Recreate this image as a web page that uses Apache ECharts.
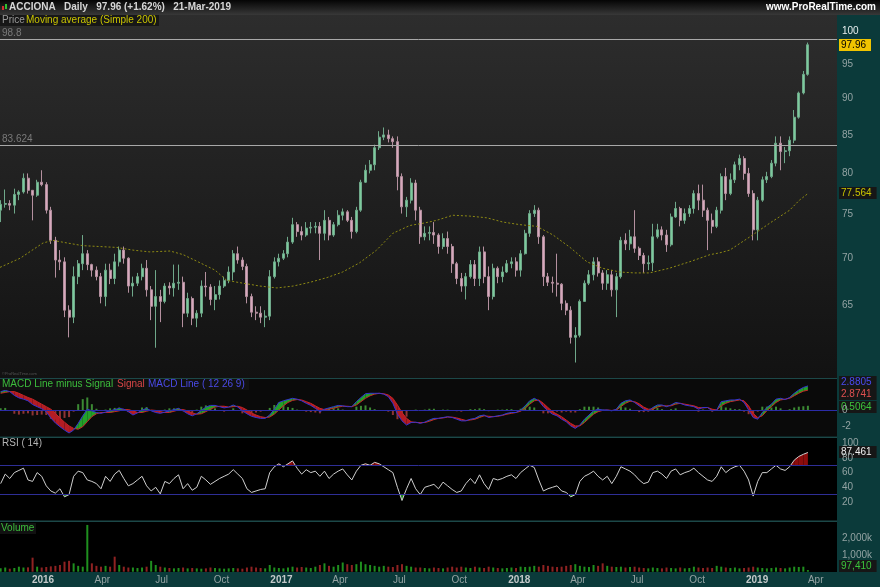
<!DOCTYPE html>
<html>
<head>
<meta charset="utf-8">
<script src="https://cdn.jsdelivr.net/npm/echarts@6.0.0/dist/echarts.min.js"></script>
<style>
html,body{margin:0;padding:0;background:#000;overflow:hidden;}
#chart{width:880px;height:587px;}
</style>
</head>
<body>
<div id="chart"></div>
<script>
// ---------------- data (weekly samples) ----------------
const firstWeek = [2015, 9, 28];   // Wednesday of the first plotted week
const weekCount = 178;

const openVals = [
75.5,76.2,76.3,76.1,77.4,77.7,79.4,77.9,77.3,78.9,
78.6,75.5,72.0,69.8,69.6,64.5,63.8,68.0,69.4,70.5,
69.3,68.7,68.0,65.9,68.7,67.8,69.6,70.9,70.0,67.0,
67.3,68.0,68.9,66.6,64.9,65.9,65.4,67.0,66.8,67.3,
67.4,64.2,65.7,63.7,64.2,67.0,66.9,65.6,66.1,67.0,
67.6,68.5,70.5,69.8,69.1,65.9,64.3,64.2,63.8,63.9,
68.0,69.6,70.0,70.5,71.8,73.8,73.0,72.6,73.4,73.5,
73.6,72.8,74.3,72.6,73.8,74.9,75.3,74.3,73.0,75.5,
78.9,80.4,81.1,83.3,84.7,85.0,84.5,84.1,79.6,75.9,
76.7,78.8,75.5,72.4,72.8,72.9,72.6,71.3,72.2,71.3,
69.4,67.8,67.0,68.0,69.3,67.8,70.7,68.0,65.9,68.9,
68.0,68.5,69.4,69.6,68.7,70.5,72.8,75.1,75.5,72.4,
68.0,67.4,67.3,67.2,65.2,64.5,61.8,62.0,65.4,67.3,
68.2,69.6,68.4,67.3,68.2,66.6,68.0,72.0,71.6,72.4,
71.1,70.3,69.4,69.5,72.4,73.2,72.6,71.5,74.7,75.7,
74.3,75.1,75.7,77.5,76.7,75.5,74.3,73.6,75.5,79.6,
77.5,79.2,81.1,81.9,80.0,77.5,73.2,76.7,79.2,79.6,
81.3,83.9,82.8,82.9,84.3,87.4,90.8,93.5];
const closeVals = [
76.2,76.3,76.1,77.4,77.7,79.4,77.9,77.3,78.9,78.6,
75.5,72.0,69.8,69.6,64.5,63.8,68.0,69.4,70.5,69.3,
68.7,68.0,65.9,68.7,67.8,69.6,70.9,70.0,67.0,67.3,
68.0,68.9,66.6,64.9,65.9,65.4,67.0,66.8,67.3,67.4,
64.2,65.7,63.7,64.2,67.0,66.9,65.6,66.1,67.0,67.6,
68.5,70.5,69.8,69.1,65.9,64.3,64.2,63.8,63.9,68.0,
69.6,70.0,70.5,71.8,73.8,73.0,72.6,73.4,73.5,73.6,
72.8,74.3,72.6,73.8,74.9,75.3,74.3,73.0,75.5,78.9,
80.4,81.1,83.3,84.7,85.0,84.5,84.1,79.6,75.9,76.7,
78.8,75.5,72.4,72.8,72.9,72.6,71.3,72.2,71.3,69.4,
67.8,67.0,68.0,69.3,67.8,70.7,68.0,65.9,68.9,68.0,
68.5,69.4,69.6,68.7,70.5,72.8,75.1,75.5,72.4,68.0,
67.4,67.3,67.2,65.2,64.5,61.8,62.0,65.4,67.3,68.2,
69.6,68.4,67.3,68.2,66.6,68.0,72.0,71.6,72.4,71.1,
70.3,69.4,69.5,72.4,73.2,72.6,71.5,74.7,75.7,74.3,
75.1,75.7,77.5,76.7,75.5,74.3,73.6,75.5,79.6,77.5,
79.2,81.1,81.9,80.0,77.5,73.2,76.7,79.2,79.6,81.3,
83.9,82.8,82.9,84.3,87.4,90.8,93.5,97.96];
const highVals = [
76.7,78.0,76.7,78.1,77.9,80.0,80.0,77.9,79.2,80.4,
78.9,75.9,72.4,70.9,70.1,65.0,69.1,69.8,72.6,70.9,
69.4,69.1,68.4,69.4,69.4,70.5,71.3,71.3,70.1,68.0,
68.4,69.4,69.8,67.0,68.7,66.6,67.3,67.4,69.3,69.3,
68.0,66.3,65.9,64.5,67.6,68.5,67.2,67.0,67.6,68.0,
69.1,70.9,71.3,70.1,69.4,66.2,64.9,64.9,64.5,68.7,
70.1,70.5,70.9,72.4,74.6,74.1,73.6,74.1,74.1,74.1,
74.1,75.5,74.7,74.1,75.5,75.7,75.5,74.7,75.9,79.2,
81.1,81.7,83.7,85.5,86.0,85.7,84.8,84.8,80.0,77.1,
79.4,79.2,75.9,73.6,73.6,74.1,72.8,72.8,73.0,71.6,
69.6,68.4,68.4,69.8,69.8,71.3,71.3,69.1,69.4,69.1,
69.1,69.8,70.1,70.1,70.9,73.2,75.5,76.1,75.8,72.6,
68.4,68.0,70.5,67.3,65.5,64.9,62.8,65.6,67.6,68.7,
70.1,70.1,68.7,68.7,68.7,68.4,72.4,72.8,73.2,75.5,
71.3,70.6,70.3,73.9,73.9,73.6,73.2,75.1,76.5,75.9,
75.7,76.1,77.9,78.6,78.6,75.8,75.1,75.9,80.0,80.7,
80.0,81.5,82.4,82.2,80.7,77.9,77.1,79.6,80.2,81.7,
84.8,84.8,83.4,84.8,88.4,91.0,94.0,98.3];
const lowVals = [
74.1,75.8,75.5,75.1,76.7,77.5,77.5,74.3,77.1,78.4,
75.1,71.6,67.9,68.7,63.8,61.8,63.2,67.2,68.7,68.7,
68.0,67.6,65.2,64.9,67.2,67.2,69.1,69.4,66.3,65.9,
67.0,67.6,65.9,63.5,60.8,63.3,65.2,66.1,65.9,66.6,
62.8,63.8,63.0,62.8,63.8,65.9,65.0,64.5,65.6,66.8,
67.3,67.6,69.4,68.7,65.2,63.8,63.5,63.2,62.8,63.5,
67.8,69.1,69.8,70.1,71.6,72.4,72.0,72.4,72.8,72.8,
69.8,72.0,72.0,72.4,73.6,74.3,74.1,72.2,72.8,75.3,
78.8,80.0,80.4,83.0,84.3,84.0,83.3,77.9,75.1,74.7,
76.3,74.3,71.6,72.0,72.0,71.6,70.5,71.0,70.5,68.4,
67.2,66.4,65.6,67.8,67.0,67.0,67.3,64.5,65.6,67.3,
67.4,68.4,68.9,68.0,68.0,70.4,72.4,74.7,71.6,67.0,
67.0,66.3,65.9,64.5,64.0,61.2,59.4,61.8,65.4,67.1,
67.6,68.0,66.6,66.6,65.9,63.8,67.8,70.9,70.9,70.6,
69.8,68.4,68.7,68.6,72.2,72.0,70.7,71.3,74.6,73.6,
73.9,74.7,75.1,75.5,74.7,70.9,72.8,73.4,75.1,76.7,
77.3,78.8,80.4,79.2,77.1,72.0,72.0,76.5,78.8,79.4,
80.9,80.4,81.3,82.2,83.9,87.2,90.6,93.3];

const maDates = ['2015-10-27','2015-11-27','2016-01-01','2016-01-16','2016-02-07','2016-03-02','2016-03-28','2016-04-23','2016-05-18','2016-06-13','2016-07-14','2016-08-03','2016-08-29','2016-09-21','2016-10-09','2016-11-03','2016-11-29','2016-12-25','2017-01-19','2017-02-14','2017-03-12','2017-04-05','2017-05-01','2017-05-27','2017-06-21','2017-07-17','2017-08-09','2017-08-27','2017-09-21','2017-10-17','2017-11-12','2017-12-07','2018-01-02','2018-01-28','2018-02-22','2018-03-20','2018-04-15','2018-05-09','2018-06-04','2018-06-27','2018-07-20','2018-08-19','2018-09-19','2018-10-21','2018-11-05','2018-11-20','2018-12-21','2019-01-21','2019-02-20','2019-03-07','2019-03-21'];
const maVals = [69.0,70.0,71.7,72.0,71.7,71.4,71.3,71.2,70.9,70.7,70.8,70.4,69.5,68.7,67.6,67.3,67.0,66.8,67.0,67.4,67.9,68.5,69.5,70.9,72.8,73.7,74.0,74.3,74.9,74.8,74.6,74.1,73.8,73.6,72.6,71.2,69.6,68.9,68.5,68.4,68.4,68.9,69.6,70.4,70.6,70.9,72.4,74.0,75.5,76.7,77.564];

const macdVals = [
2.2,2.35,2.2,1.75,1.45,1.3,1.1,0.65,0.4,0.15,
-0.2,-0.95,-1.55,-2.0,-2.4,-2.75,-2.4,-1.6,-0.7,0.1,
-0.1,-0.3,-0.4,-0.25,-0.1,0.05,0.2,0.1,-0.2,-0.6,
-0.35,0,0.2,-0.1,-0.3,-0.4,-0.25,-0.1,0.05,0.2,
-0.1,-0.45,-0.7,-0.45,-0.05,0.35,0.55,0.55,0.4,0.25,
0.35,0.6,0.35,-0.1,-0.45,-0.75,-0.9,-1.0,-1.0,-0.6,
0.1,0.9,1.1,1.25,1.4,1.3,1.1,0.8,0.55,0.2,
-0.2,0.1,0.25,0.4,0.55,0.5,0.4,0.4,1.0,1.5,
1.95,2.0,2.0,2.0,1.9,1.6,0.8,-0.5,-1.3,-1.8,
-1.5,-1.45,-1.6,-1.45,-1.2,-1.0,-1.0,-0.9,-0.8,-0.9,
-1.1,-1.3,-1.3,-1.1,-1.0,-0.7,-0.6,-0.9,-0.8,-0.7,
-0.6,-0.4,-0.3,-0.3,0,0.5,1.1,1.4,1.1,0.4,
-0.1,-0.5,-0.7,-1.1,-1.4,-1.9,-2.2,-1.8,-1.1,-0.6,
-0.1,0.1,0,0,-0.1,0.1,0.8,1.1,1.2,0.9,
0.5,0.1,-0.1,0.3,0.6,0.6,0.4,0.6,0.9,0.8,
0.6,0.5,0.4,0.1,0.3,0.3,-0.1,0,1.0,1.1,
1.2,1.2,1.3,0.9,0.0,-0.9,-1.1,-0.3,0.3,0.7,
1.3,1.4,1.25,1.5,2.0,2.4,2.7,2.8805];
const signalVals = [
2.0,2.1,2.2,2.2,2.0,1.75,1.5,1.3,1.0,0.7,
0.4,0.1,-0.4,-0.95,-1.45,-1.9,-2.2,-2.3,-2.0,-1.4,
-0.8,-0.45,-0.3,-0.3,-0.3,-0.2,-0.1,0.05,0.05,-0.1,
-0.3,-0.3,-0.15,0,-0.05,-0.2,-0.3,-0.3,-0.15,0,
0.05,-0.1,-0.35,-0.5,-0.45,-0.2,0.1,0.35,0.45,0.45,
0.35,0.4,0.45,0.3,0.0,-0.35,-0.6,-0.8,-0.9,-0.85,
-0.5,0.0,0.5,0.9,1.15,1.25,1.2,1.0,0.8,0.5,
0.2,0.05,0.1,0.2,0.35,0.45,0.45,0.4,0.6,1.0,
1.4,1.7,1.9,2.0,1.95,1.8,1.4,0.6,-0.3,-1.0,
-1.4,-1.5,-1.5,-1.5,-1.35,-1.15,-1.0,-0.95,-0.85,-0.85,
-0.95,-1.1,-1.25,-1.2,-1.1,-0.9,-0.7,-0.75,-0.8,-0.75,
-0.65,-0.5,-0.4,-0.3,-0.15,0.2,0.7,1.1,1.2,0.8,
0.3,-0.2,-0.5,-0.8,-1.2,-1.6,-1.9,-1.9,-1.5,-1.0,
-0.5,-0.2,-0.05,0,-0.05,0,0.4,0.8,1.05,1.0,
0.75,0.35,0.1,0.1,0.35,0.5,0.5,0.5,0.7,0.8,
0.7,0.6,0.5,0.3,0.25,0.3,0.1,0.0,0.5,0.8,
1.0,1.1,1.2,1.1,0.5,-0.4,-0.9,-0.7,-0.1,0.4,
0.9,1.2,1.3,1.4,1.7,2.0,2.25,2.3741];
const histVals = [
0.2,0.25,0,-0.45,-0.55,-0.45,-0.4,-0.65,-0.6,-0.55,
-0.6,-1.05,-1.15,-1.05,-0.95,-0.85,-0.2,0.7,1.3,1.5,
0.7,0.15,-0.1,0.05,0.2,0.25,0.3,0.05,-0.25,-0.5,
-0.05,0.3,0.35,-0.1,-0.25,-0.2,0.05,0.2,0.2,0.2,
-0.15,-0.35,-0.35,0.05,0.4,0.55,0.45,0.2,-0.05,-0.2,
0,0.2,-0.1,-0.4,-0.45,-0.4,-0.3,-0.2,-0.1,0.25,
0.6,0.9,0.6,0.35,0.25,0.05,-0.1,-0.2,-0.25,-0.3,
-0.4,0.05,0.15,0.2,0.2,0.05,-0.05,0,0.4,0.5,
0.55,0.3,0.1,0,-0.05,-0.2,-0.6,-1.1,-1.0,-0.8,
-0.1,0.05,-0.1,0.05,0.15,0.15,0,0.05,0.05,-0.05,
-0.15,-0.2,-0.05,0.1,0.1,0.2,0.1,-0.15,0,0.05,
0.05,0.1,0.1,0,0.15,0.3,0.4,0.3,-0.1,-0.4,
-0.4,-0.3,-0.2,-0.3,-0.2,-0.3,-0.3,0.1,0.4,0.4,
0.4,0.3,0.05,0,-0.05,0.1,0.4,0.3,0.15,-0.1,
-0.25,-0.25,-0.2,0.2,0.25,0.1,-0.1,0.1,0.2,0,
-0.1,-0.1,-0.1,-0.2,0.05,0,-0.2,0,0.5,0.3,
0.2,0.1,0.1,-0.2,-0.5,-0.5,-0.2,0.4,0.4,0.3,
0.4,0.2,-0.05,0.1,0.3,0.4,0.45,0.5064];
const rsiVals = [
45,58,52,60,63,66,50,48,60,55,
42,35,32,38,27,30,55,62,60,50,
48,45,38,55,48,58,63,52,42,45,
50,55,42,35,40,31,48,45,52,57,
38,45,36,40,55,50,44,48,52,55,
58,64,58,52,38,33,35,37,38,60,
68,72,68,72,76,66,58,64,60,62,
55,62,52,58,62,65,57,50,62,70,
72,70,74,72,68,64,60,40,22,38,
52,38,30,40,42,44,38,47,42,37,
33,35,45,52,45,57,45,37,52,50,
52,55,57,52,60,65,70,67,50,35,
38,40,42,35,33,27,30,48,55,58,
62,55,50,55,45,55,68,65,62,57,
50,45,47,60,62,58,52,62,65,57,
60,62,66,60,55,50,48,55,68,60,
65,68,70,62,50,28,48,60,60,65,
70,65,63,68,77,82,85,87.461];
const volumeVals = [ // thousands of shares
200,250,180,220,300,250,260,840,300,250,
280,320,350,400,600,650,500,350,300,2800,
500,350,300,350,300,900,400,300,250,250,
220,250,300,650,400,300,250,220,200,220,
250,200,220,200,180,200,250,220,200,180,
200,220,200,180,250,300,250,220,200,400,
250,220,200,250,300,250,280,250,220,300,
400,500,350,300,400,550,450,400,450,600,
450,400,350,300,350,300,280,400,450,350,
300,250,250,220,200,250,220,200,250,300,
250,300,250,220,300,250,220,300,250,220,
200,220,250,220,300,280,300,350,300,400,
350,300,280,300,350,400,450,350,300,280,
400,350,500,350,300,280,300,250,280,300,
250,220,200,250,220,200,250,220,200,250,
200,220,300,250,220,250,220,350,300,250,
220,250,200,220,250,300,250,220,200,220,
250,220,200,250,300,280,300,97.41];
// bar direction seen in the picture where it differs from the weekly candle
const volumeDirOverride = {7: -1, 19: 1, 25: -1, 33: 1};

const priceTicks = [65,70,75,80,85,90,95,100];
const macdTicks = [-2,0];
const rsiTicks = [20,40,60,80,100];
const volumeTicks = [1000,2000];
const xTickDates = ['2016-01-01','2016-04-01','2016-07-01','2016-10-01','2017-01-01','2017-04-01','2017-07-01','2017-10-01','2018-01-01','2018-04-01','2018-07-01','2018-10-01','2019-01-01','2019-04-01'];
const monthNames = ['Jan','Feb','Mar','Apr','May','Jun','Jul','Aug','Sep','Oct','Nov','Dec'];
const refLines = [98.8, 83.624];
const rsiLevels = [70, 30];
const headerText = 'ACCIONA   Daily   97.96 (+1.62%)   21-Mar-2019';
const signalLabel = '2.8741';

// ---------------- helpers ----------------
function parseDay(s){ const p = s.split('-').map(Number); return new Date(p[0], p[1]-1, p[2]).getTime(); }
const weekTimes = Array.from({length: weekCount}, (_, i) => new Date(firstWeek[0], firstWeek[1], firstWeek[2] + 7*i).getTime());
const xMin = new Date(2015, 9, 27).getTime();
const xMax = new Date(2019, 4, 3, 16).getTime();
const xTicks = xTickDates.map(parseDay);

const chart = echarts.init(document.getElementById('chart'), null, {renderer: 'canvas'});

const G = [
  {left: 0, top: 15, width: 837, height: 363},
  {left: 0, top: 379, width: 837, height: 57},
  {left: 0, top: 438, width: 837, height: 82},
  {left: 0, top: 522, width: 837, height: 49.7}
];

function xAxisFor(i, showLabels){
  return {
    type: 'value', gridIndex: i, min: xMin, max: xMax, scale: true,
    axisLine: {show: false}, axisTick: {show: false}, splitLine: {show: false},
    axisLabel: showLabels ? {
      show: true, margin: 4, customValues: xTicks, hideOverlap: false,
      formatter: v => { const d = new Date(v); return d.getMonth() === 0 ? '{y|' + d.getFullYear() + '}' : '{m|' + monthNames[d.getMonth()] + '}'; },
      rich: { y: {fontWeight: 'bold', color: '#c4caca', fontSize: 10, fontFamily: 'Arial'}, m: {color: '#95a3a3', fontSize: 10, fontFamily: 'Arial'} }
    } : {show: false}
  };
}
function yAxisFor(i, extra){
  return Object.assign({
    gridIndex: i, position: 'right',
    axisLine: {show: false}, axisTick: {show: false}, splitLine: {show: false},
  }, extra);
}
const yLabelStyle = {color: '#93a3a3', fontSize: 10, fontFamily: 'Arial', margin: 5, align: 'left'};

const candleData = weekTimes.map((t, i) => [t, openVals[i], closeVals[i], lowVals[i], highVals[i]]);
const maData = maDates.map((d, i) => [parseDay(d), maVals[i]]);

function bandPoly(api, i, level, above){
  const v1 = rsiVals[i], v2 = rsiVals[i+1];
  const t1 = weekTimes[i], t2 = weekTimes[i+1];
  const in1 = above ? v1 > level : v1 < level;
  const in2 = above ? v2 > level : v2 < level;
  if (!in1 && !in2) return null;
  const p1 = api.coord([t1, v1]), p2 = api.coord([t2, v2]);
  const l1 = api.coord([t1, level]), l2 = api.coord([t2, level]);
  if (in1 && in2) return [p1, p2, l2, l1];
  const f = (v1 - level) / (v1 - v2);
  const c = [p1[0] + f * (p2[0] - p1[0]), l1[1]];
  return in1 ? [p1, c, l1] : [c, p2, l2];
}
function volumeUp(i){
  if (volumeDirOverride[i] !== undefined) return volumeDirOverride[i] > 0;
  return closeVals[i] >= openVals[i];
}

const option = {
  backgroundColor: '#000',
  animation: false,
  grid: G.map((g, i) => Object.assign({
    show: true, borderWidth: 0,
    backgroundColor: i === 0 ? {type: 'linear', x: 0, y: 0, x2: 0, y2: 1, colorStops: [{offset: 0, color: '#2d2d2d'}, {offset: 1, color: '#121212'}]} : (i === 1 ? '#0a0a0a' : '#000')
  }, g)),
  xAxis: [xAxisFor(0, false), xAxisFor(1, false), xAxisFor(2, false), xAxisFor(3, true)],
  yAxis: [
    yAxisFor(0, {type: 'log', logBase: 10, min: 57.97, max: 102.66,
      axisLabel: Object.assign({}, yLabelStyle, {customValues: priceTicks, formatter: v => v === 100 ? '{w|100}' : String(v), rich: {w: {color: '#e6eeee', fontSize: 10, fontFamily: 'Arial'}}})}),
    yAxisFor(1, {type: 'value', min: -3.11, max: 3.71, axisLabel: Object.assign({}, yLabelStyle, {customValues: macdTicks})}),
    yAxisFor(2, {type: 'value', min: -4.6, max: 107.2, axisLabel: Object.assign({}, yLabelStyle, {customValues: rsiTicks})}),
    yAxisFor(3, {type: 'value', min: 0, max: 2976, axisLabel: Object.assign({}, yLabelStyle, {customValues: volumeTicks, formatter: v => v.toLocaleString('en-US') + 'k'})})
  ],
  series: [
    {
      type: 'candlestick', xAxisIndex: 0, yAxisIndex: 0, data: candleData,
      encode: {x: 0, y: [1, 2, 3, 4]}, barWidth: 2.5,
      itemStyle: {color: '#7ccb9c', color0: '#d7a9bd', borderColor: '#6fa88a', borderColor0: '#b4909f', borderWidth: 1},
      markLine: {
        silent: true, symbol: 'none', animation: false,
        lineStyle: {color: '#a8a8a8', width: 1, type: 'solid'},
        label: {show: true, position: 'insideStartTop', distance: [2, 1], color: '#7a7a7a', fontSize: 10, fontFamily: 'Arial', formatter: '{b}'},
        data: refLines.map(v => ({yAxis: v, name: String(v)}))
      },
      z: 3
    },
    {
      type: 'line', xAxisIndex: 0, yAxisIndex: 0, data: maData, showSymbol: false, symbol: 'none',
      lineStyle: {color: '#8e8a14', width: 1, type: [2, 2]}, z: 4
    },
    {
      type: 'custom', xAxisIndex: 1, yAxisIndex: 1, silent: true, z: 2, clip: true,
      data: weekTimes.map((t, i) => [t, macdVals[i], signalVals[i]]),
      encode: {x: 0, y: [1, 2]},
      renderItem: (params, api) => {
        const i = params.dataIndex;
        if (i >= weekCount - 1) return null;
        const a1 = api.coord([weekTimes[i], macdVals[i]]), b1 = api.coord([weekTimes[i], signalVals[i]]);
        const a2 = api.coord([weekTimes[i+1], macdVals[i+1]]), b2 = api.coord([weekTimes[i+1], signalVals[i+1]]);
        const up = (macdVals[i] + macdVals[i+1]) >= (signalVals[i] + signalVals[i+1]);
        return {type: 'polygon', shape: {points: [a1, a2, b2, b1]}, style: {fill: up ? '#23a02a' : '#b41c24'}};
      }
    },
    {
      type: 'bar', xAxisIndex: 1, yAxisIndex: 1, barWidth: 2, z: 1,
      data: weekTimes.map((t, i) => ({value: [t, histVals[i]], itemStyle: {color: histVals[i] >= 0 ? '#3c8a34' : '#8e3434'}})),
      markLine: {silent: true, symbol: 'none', label: {show: false}, lineStyle: {color: '#2c2ca8', width: 1, type: 'solid'}, data: [{yAxis: 0}]}
    },
    {type: 'line', xAxisIndex: 1, yAxisIndex: 1, data: weekTimes.map((t, i) => [t, signalVals[i]]), showSymbol: false, symbol: 'none', lineStyle: {color: '#c42626', width: 1}, z: 3},
    {type: 'line', xAxisIndex: 1, yAxisIndex: 1, data: weekTimes.map((t, i) => [t, macdVals[i]]), showSymbol: false, symbol: 'none', lineStyle: {color: '#3434d0', width: 1}, z: 4},
    {
      type: 'custom', xAxisIndex: 2, yAxisIndex: 2, silent: true, z: 2, clip: true,
      data: weekTimes.map((t, i) => [t, rsiVals[i]]),
      encode: {x: 0, y: 1},
      renderItem: (params, api) => {
        const i = params.dataIndex;
        if (i >= weekCount - 1) return null;
        const children = [];
        const up = bandPoly(api, i, rsiLevels[0], true);
        if (up) children.push({type: 'polygon', shape: {points: up}, style: {fill: '#8c0c0c'}});
        const dn = bandPoly(api, i, rsiLevels[1], false);
        if (dn) children.push({type: 'polygon', shape: {points: dn}, style: {fill: '#1d8a1d'}});
        return {type: 'group', children};
      }
    },
    {
      type: 'line', xAxisIndex: 2, yAxisIndex: 2, data: weekTimes.map((t, i) => [t, rsiVals[i]]), showSymbol: false, symbol: 'none',
      lineStyle: {color: '#cfcfcf', width: 1}, z: 4,
      markLine: {silent: true, symbol: 'none', label: {show: false}, lineStyle: {color: '#2e2e96', width: 1, type: 'solid'}, data: rsiLevels.map(v => ({yAxis: v}))}
    },
    {
      type: 'bar', xAxisIndex: 3, yAxisIndex: 3, barWidth: 2,
      data: weekTimes.map((t, i) => ({value: [t, volumeVals[i]], itemStyle: {color: volumeUp(i) ? '#1f8f1f' : '#8f2222'}}))
    }
  ]
};
chart.setOption(option);

// ---------- decorations (text, panels) ----------
function py(axis, v){ return chart.convertToPixel({yAxisIndex: axis}, v); }
const last = weekCount - 1;
const badgeFont = '10px Arial';
function badge(y, text, fill, color){
  return {type: 'group', x: 839, y: Math.round(y) - 6, z: 100, children: [
    {type: 'rect', shape: {x: 0, y: 0, width: text.length * 5.6 + 4, height: 12}, style: {fill: fill}},
    {type: 'text', x: 2, y: 6.5, style: {text: text, font: badgeFont, fill: color, verticalAlign: 'middle'}}
  ]};
}
const volText = Math.round(volumeVals[last] * 1000).toLocaleString('en-US');
const badges = [
  badge(py(0, closeVals[last]), closeVals[last].toFixed(2), '#f0c400', '#000'),
  badge(py(0, maVals[maVals.length-1]), String(maVals[maVals.length-1]), '#161616', '#c9c400'),
  badge(py(1, macdVals[last]) - 4, String(macdVals[last]), '#161616', '#4a4af0'),
  badge(py(1, signalVals[last]) + 4, signalLabel, '#161616', '#e05050'),
  badge(py(1, histVals[last]) + 1, String(histVals[last]), '#161616', '#3cc43c'),
  badge(py(2, rsiVals[last]), String(rsiVals[last]), '#161616', '#f0f0f0'),
  badge(Math.min(py(3, volumeVals[last]), 566), volText, '#161616', '#3cc43c')
];

const graphics = [
  {type: 'rect', z: -10, shape: {x: 837, y: 15, width: 43, height: 572}, style: {fill: '#0b3a3a'}},
  {type: 'rect', z: -10, shape: {x: 0, y: 572, width: 880, height: 15}, style: {fill: '#0b3a3a'}},
  {type: 'rect', z: 50, shape: {x: 0, y: 378, width: 837, height: 1}, style: {fill: '#1c4848'}},
  {type: 'rect', z: 50, shape: {x: 0, y: 436.5, width: 837, height: 1.5}, style: {fill: '#1c4848'}},
  {type: 'rect', z: 50, shape: {x: 0, y: 520.5, width: 837, height: 1.5}, style: {fill: '#1c4848'}},
  {type: 'rect', z: 50, shape: {x: 0, y: 0, width: 880, height: 15}, style: {fill: {type: 'linear', x: 0, y: 0, x2: 0, y2: 1, colorStops: [{offset: 0, color: '#050505'}, {offset: 1, color: '#383838'}]}}},
  {type: 'rect', z: 51, shape: {x: 2, y: 6, width: 2, height: 4}, style: {fill: '#d03030'}},
  {type: 'rect', z: 51, shape: {x: 5, y: 4, width: 2, height: 5}, style: {fill: '#30c030'}},
  {type: 'text', z: 51, x: 9, y: 7.5, style: {text: headerText, font: 'bold 10px Arial', fill: '#d6d6d6', verticalAlign: 'middle'}},
  {type: 'text', z: 51, x: 876, y: 7.5, style: {text: 'www.ProRealTime.com', font: 'bold 10px Arial', fill: '#ffffff', align: 'right', verticalAlign: 'middle'}},
  {type: 'rect', z: 50, shape: {x: 0, y: 15, width: 159, height: 11}, style: {fill: '#171717'}},
  {type: 'text', z: 51, x: 2, y: 20.5, style: {text: 'Price', font: '10px Arial', fill: '#9a9a9a', verticalAlign: 'middle'}},
  {type: 'text', z: 51, x: 26, y: 20.5, style: {text: 'Moving average (Simple 200)', font: '10px Arial', fill: '#c9c400', verticalAlign: 'middle'}},
  {type: 'text', z: 51, x: 2, y: 374, style: {text: '\u00a9ProRealTime.com', font: '4px Arial', fill: '#555', verticalAlign: 'middle'}},
  {type: 'rect', z: 50, shape: {x: 0, y: 379, width: 249, height: 11}, style: {fill: '#111'}},
  {type: 'text', z: 51, x: 2, y: 384.5, style: {text: 'MACD Line minus Signal', font: '10px Arial', fill: '#3cbe3c', verticalAlign: 'middle'}},
  {type: 'text', z: 51, x: 117, y: 384.5, style: {text: 'Signal', font: '10px Arial', fill: '#d84646', verticalAlign: 'middle'}},
  {type: 'text', z: 51, x: 148, y: 384.5, style: {text: 'MACD Line ( 12 26 9)', font: '10px Arial', fill: '#4a4ae6', verticalAlign: 'middle'}},
  {type: 'text', z: 51, x: 2, y: 443.5, style: {text: 'RSI ( 14)', font: '10px Arial', fill: '#b4b4b4', verticalAlign: 'middle'}},
  {type: 'rect', z: 50, shape: {x: 0, y: 523, width: 36, height: 11}, style: {fill: '#111'}},
  {type: 'text', z: 51, x: 1, y: 528.5, style: {text: 'Volume', font: '10px Arial', fill: '#3cbe3c', verticalAlign: 'middle'}}
].concat(badges);

chart.setOption({graphic: {elements: graphics}});
</script>
</body>
</html>
